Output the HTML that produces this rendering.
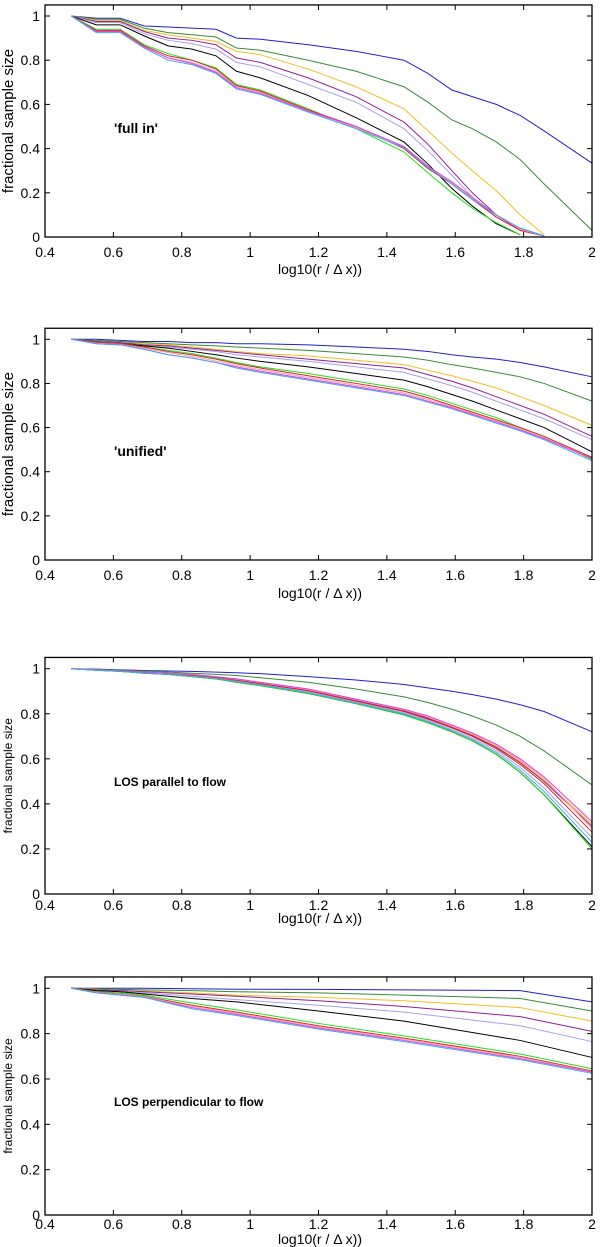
<!DOCTYPE html>
<html><head><meta charset="utf-8"><style>
html,body{margin:0;padding:0;background:#fff;}
svg{display:block;font-family:"Liberation Sans",sans-serif;}
</style></head><body>
<svg id="fig" width="600" height="1247" viewBox="0 0 600 1247" xmlns="http://www.w3.org/2000/svg"></svg>
<script>
// ---- data ----
const xTicks = [0.4,0.6,0.8,1,1.2,1.4,1.6,1.8,2];
const xTickLabels = ["0.4","0.6","0.8","1","1.2","1.4","1.6","1.8","2"];
const yTicks = [0,0.2,0.4,0.6,0.8,1];
const yTickLabels = ["0","0.2","0.4","0.6","0.8","1"];
const seriesNames = ["blue","dark-green","yellow","purple","lavender","black","green","red","pink","magenta","light-blue"];
const seriesColors = ["#2020d0","#3a8a3a","#f0c020","#902090","#a8a0e8","#000000","#20e020","#e02020","#f0a0b0","#e040e0","#40a8f0"];

const xFull = [0.477,0.55,0.62,0.69,0.76,0.83,0.9,0.96,1.03,1.17,1.31,1.45,1.52,1.59,1.65,1.72,1.79,1.86,2.0];
const xPerp = [0.477,0.55,0.62,0.69,0.83,0.96,1.2,1.45,1.79,2.0];

const fullIn = [
 [1,.99,.99,.955,.95,.945,.94,.9,.895,.87,.84,.8,.74,.665,.635,.6,.55,.48,.334],
 [1,.985,.985,.945,.925,.915,.905,.855,.845,.8,.75,.68,.61,.53,.49,.43,.35,.24,.03],
 [1,.98,.98,.935,.915,.9,.885,.84,.825,.76,.68,.58,.48,.38,.3,.21,.1,.01],
 [1,.975,.975,.93,.9,.89,.87,.81,.79,.72,.635,.52,.42,.3,.2,.1,.03,.005],
 [1,.97,.97,.92,.89,.875,.85,.79,.77,.69,.61,.49,.39,.28,.18,.09,.03,.005],
 [1,.96,.96,.91,.865,.85,.82,.75,.72,.64,.54,.43,.33,.22,.14,.06,.01],
 [1,.94,.94,.87,.83,.8,.765,.69,.665,.58,.49,.385,.29,.2,.13,.065,.01],
 [1,.935,.935,.865,.82,.8,.76,.685,.66,.575,.5,.4,.31,.24,.17,.09,.03,.005],
 [1,.93,.93,.86,.81,.79,.75,.68,.655,.57,.495,.405,.315,.245,.175,.1,.035,.005],
 [1,.93,.93,.86,.81,.785,.745,.675,.65,.57,.5,.41,.32,.25,.18,.1,.04,.005],
 [1,.925,.925,.855,.8,.78,.74,.67,.645,.565,.49,.405,.315,.24,.17,.1,.04,.005]
];
const unified = [
 [1,1,.995,.99,.99,.985,.985,.98,.98,.975,.965,.955,.945,.93,.92,.91,.895,.875,.83],
 [1,.995,.99,.985,.98,.975,.97,.965,.96,.95,.935,.92,.905,.885,.87,.85,.83,.8,.72],
 [1,.99,.985,.98,.975,.965,.955,.945,.935,.925,.905,.885,.86,.835,.81,.78,.74,.7,.61],
 [1,.99,.985,.975,.97,.96,.95,.94,.93,.91,.89,.87,.84,.81,.78,.74,.7,.66,.56],
 [1,.985,.98,.97,.965,.955,.945,.93,.92,.9,.875,.85,.82,.79,.76,.72,.68,.64,.545],
 [1,.985,.98,.97,.96,.945,.93,.915,.9,.875,.845,.815,.785,.75,.72,.68,.64,.6,.49],
 [1,.985,.98,.965,.95,.935,.915,.895,.875,.845,.81,.775,.745,.71,.68,.645,.6,.56,.455],
 [1,.985,.98,.965,.945,.93,.91,.89,.87,.835,.8,.765,.735,.7,.67,.635,.6,.56,.465],
 [1,.982,.977,.96,.94,.922,.902,.882,.862,.827,.792,.757,.727,.695,.665,.63,.595,.555,.46],
 [1,.98,.975,.955,.93,.915,.895,.875,.855,.82,.785,.75,.72,.69,.66,.625,.59,.55,.46],
 [1,.98,.975,.955,.93,.915,.895,.87,.85,.815,.78,.745,.715,.685,.655,.62,.585,.545,.45]
];
const parallel = [
 [1,.998,.995,.992,.99,.988,.985,.982,.978,.965,.95,.93,.915,.9,.885,.865,.84,.81,.72],
 [1,.997,.993,.99,.985,.98,.975,.97,.96,.94,.91,.875,.85,.82,.79,.75,.7,.635,.484],
 [1,.995,.99,.984,.979,.973,.963,.952,.937,.905,.86,.815,.783,.743,.707,.655,.588,.505,.31],
 [1,.995,.99,.985,.979,.973,.963,.952,.937,.905,.859,.813,.78,.74,.703,.651,.583,.5,.3],
 [1,.994,.989,.982,.977,.969,.959,.946,.931,.898,.852,.804,.77,.73,.692,.636,.562,.47,.25],
 [1,.993,.988,.98,.975,.965,.955,.94,.925,.89,.845,.795,.76,.72,.68,.62,.54,.44,.21],
 [1,.993,.988,.98,.975,.965,.955,.94,.925,.89,.845,.795,.76,.72,.68,.62,.54,.44,.2],
 [1,.994,.989,.983,.978,.971,.961,.949,.934,.902,.856,.81,.776,.737,.7,.645,.575,.49,.275],
 [1,.995,.99,.985,.98,.974,.964,.953,.938,.907,.862,.817,.786,.746,.711,.66,.594,.513,.29],
 [1,.995,.99,.985,.98,.975,.965,.955,.94,.91,.865,.82,.79,.75,.715,.665,.6,.52,.32],
 [1,.993,.988,.981,.976,.967,.957,.943,.928,.894,.848,.8,.765,.725,.686,.628,.55,.455,.23]
];
const perpendicular = [
 [1,1,1,1,.998,.996,.995,.993,.99,.94],
 [1,.998,.995,.993,.99,.985,.98,.97,.955,.9],
 [1,.995,.99,.988,.98,.97,.96,.945,.915,.855],
 [1,.993,.99,.985,.975,.965,.945,.92,.875,.81],
 [1,.99,.985,.98,.965,.95,.925,.895,.835,.765],
 [1,.99,.985,.975,.955,.94,.9,.855,.77,.695],
 [1,.985,.98,.97,.935,.905,.845,.79,.71,.645],
 [1,.983,.975,.965,.925,.895,.835,.78,.7,.635],
 [1,.982,.973,.963,.92,.89,.83,.775,.695,.632],
 [1,.98,.97,.96,.915,.885,.825,.77,.69,.63],
 [1,.98,.97,.96,.91,.88,.82,.765,.685,.625]
];

const panels = [
 {name:"full-in", xs:xFull, data:fullIn, y0:237, y1:16, label:"'full in'", ly:133, lsize:14, ylsize:15, tickBase:257, xlBase:274},
 {name:"unified", xs:xFull, data:unified, y0:560, y1:339.3, label:"'unified'", ly:456, lsize:14, ylsize:15, tickBase:580, xlBase:598},
 {name:"parallel", xs:xFull, data:parallel, y0:894, y1:668.7, label:"LOS parallel to flow", ly:786, lsize:12, ylsize:12, tickBase:910, xlBase:923},
 {name:"perpendicular", xs:xPerp, data:perpendicular, y0:1215, y1:988.3, label:"LOS perpendicular to flow", ly:1106, lsize:12, ylsize:12, tickBase:1229, xlBase:1244}
];

const NS = "http://www.w3.org/2000/svg";
const svg = document.getElementById("fig");
const X0 = 45, X1 = 592;
function mk(tag, attrs, parent){
  const e = document.createElementNS(NS, tag);
  for (const k in attrs) e.setAttribute(k, attrs[k]);
  parent.appendChild(e);
  return e;
}
panels.forEach(p => {
  const sx = v => X0 + (v - 0.4) / 1.6 * (X1 - X0);
  const sy = v => p.y0 - v * (p.y0 - p.y1);
  const g = mk("g", {}, svg);
  
  
  const top = sy(1.05);
  // series
  p.data.forEach((vals, i) => {
    const pts = vals.map((v, j) => sx(p.xs[j]).toFixed(2) + "," + sy(v).toFixed(2)).join(" ");
    const pl = mk("polyline", {points: pts, fill: "none", stroke: seriesColors[i], "stroke-width": 1}, g);
    
    
  });
  // box
  const box = mk("rect", {x: X0, y: top, width: X1 - X0, height: p.y0 - top, fill: "none", stroke: "#000", "stroke-width": 1.3}, g);
  
  
  // x ticks
  xTicks.forEach((t, i) => {
    const x = sx(t);
    mk("line", {x1: x, y1: p.y0, x2: x, y2: p.y0 - 5, stroke: "#000"}, g);
    mk("line", {x1: x, y1: top, x2: x, y2: top + 5, stroke: "#000"}, g);
    const tl = mk("text", {x: x, y: p.tickBase, "text-anchor": "middle", "font-size": 14, fill: "#000"}, g);
    tl.textContent = xTickLabels[i];
    
    
  });
  yTicks.forEach((t, i) => {
    const y = sy(t);
    mk("line", {x1: X0, y1: y, x2: X0 + 5, y2: y, stroke: "#000"}, g);
    mk("line", {x1: X1, y1: y, x2: X1 - 5, y2: y, stroke: "#000"}, g);
    const tl = mk("text", {x: 40, y: y + 5, "text-anchor": "end", "font-size": 14, fill: "#000"}, g);
    tl.textContent = yTickLabels[i];
    
    
  });
  const xl = mk("text", {x: 320, y: p.xlBase, "text-anchor": "middle", "font-size": 14, fill: "#000"}, g);
  xl.textContent = "log10(r / \u0394 x))";
  
  
  const yc = (p.y0 + top) / 2;
  const yl = mk("text", {x: 0, y: 0, "text-anchor": "middle", "font-size": p.ylsize, fill: "#000", transform: "translate(" + (p.ylsize === 15 ? 13 : 12) + "," + yc + ") rotate(-90)"}, g);
  yl.textContent = "fractional sample size";
  
  
  const an = mk("text", {x: 114, y: p.ly, "font-size": p.lsize, "font-weight": "bold", fill: "#000"}, g);
  an.textContent = p.label;
  
  
});
</script>
</body></html>
